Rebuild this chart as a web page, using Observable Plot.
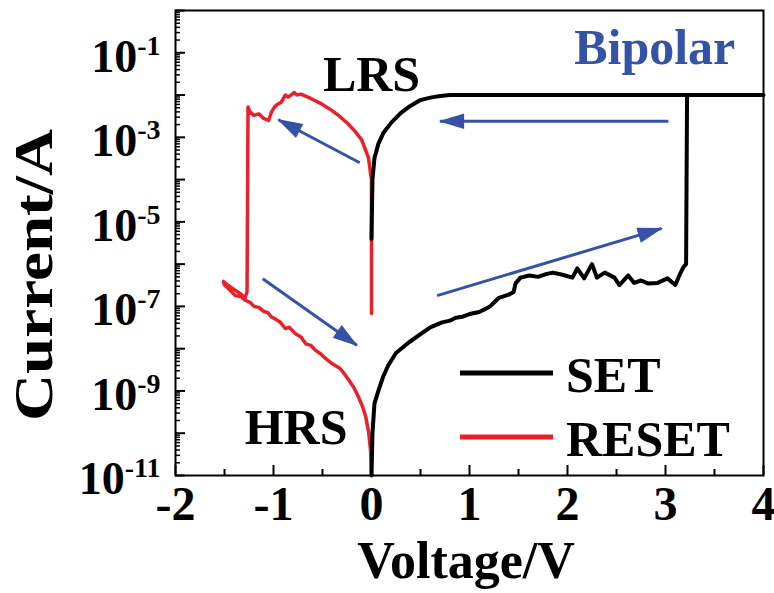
<!DOCTYPE html>
<html>
<head>
<meta charset="utf-8">
<script src="https://cdn.jsdelivr.net/npm/d3@7"></script>
<script src="https://cdn.jsdelivr.net/npm/@observablehq/plot@0.6"></script>
<style>
  body { margin: 0; background: #fff; }
  #chart { position: relative; width: 774px; height: 593px; }
  #chart svg, #chart svg text { font-family: "Liberation Serif", "Times New Roman", Times, "DejaVu Serif", serif !important; font-weight: bold; }
</style>
</head>
<body>
<div id="chart"></div>
<script>
// ---- Data ----
const setVoltage = [0, 0.01, 0.03, 0.07, 0.12, 0.17, 0.25, 0.38, 0.5, 0.6, 0.72, 0.8, 0.86, 0.93, 1.0, 1.1, 1.21, 1.3, 1.4, 1.45, 1.47, 1.52, 1.61, 1.7, 1.78, 1.85, 1.95, 2.05, 2.1, 2.17, 2.25, 2.3, 2.38, 2.48, 2.53, 2.62, 2.68, 2.75, 2.82, 2.92, 3.02, 3.1, 3.15, 3.18, 3.21, 3.22, 4.0, 0.8, 0.7, 0.6, 0.5, 0.4, 0.3, 0.2, 0.12, 0.07, 0.03, 0.01, 0];
const setCurrent = [1e-11, 1e-10, 5e-10, 1e-9, 2.2e-9, 4e-9, 7.9e-9, 1.4e-8, 2.2e-8, 3.2e-8, 4.2e-8, 4.6e-8, 5.4e-8, 5.7e-8, 6.6e-8, 7.4e-8, 1.0e-7, 1.6e-7, 1.9e-7, 2.2e-7, 3.5e-7, 4.8e-7, 5.4e-7, 5.0e-7, 5.8e-7, 6.3e-7, 5.6e-7, 4.8e-7, 7.9e-7, 4.6e-7, 1.0e-6, 4.8e-7, 6.3e-7, 4.8e-7, 3.2e-7, 5.4e-7, 3.6e-7, 4.1e-7, 3.5e-7, 3.6e-7, 4.6e-7, 3.2e-7, 6.0e-7, 8.3e-7, 1.0e-6, 1e-2, 1e-2, 1e-2, 9.5e-3, 8.7e-3, 7.6e-3, 5.6e-3, 3.8e-3, 2.2e-3, 1.26e-3, 7e-4, 3.2e-4, 1e-4, 4e-6];

const resetVoltage = [0, 0, -0.01, -0.03, -0.1, -0.17, -0.24, -0.33, -0.41, -0.5, -0.62, -0.72, -0.76, -0.79, -0.82, -0.85, -0.88, -0.92, -0.96, -0.99, -1.02, -1.05, -1.1, -1.15, -1.2, -1.24, -1.26, -1.27, -1.29, -1.34, -1.41, -1.47, -1.51, -1.5, -1.45, -1.39, -1.33, -1.29, -1.24, -1.2, -1.15, -1.1, -1.06, -1.02, -0.98, -0.93, -0.88, -0.84, -0.78, -0.72, -0.67, -0.62, -0.57, -0.52, -0.47, -0.4, -0.32, -0.28, -0.23, -0.18, -0.13, -0.09, -0.06, -0.03, -0.01, 0];
const resetCurrent = [6.8e-8, 1e-4, 1.4e-4, 3.2e-4, 8.7e-4, 1.4e-3, 2.1e-3, 3.2e-3, 4.4e-3, 6.0e-3, 8.3e-3, 1.05e-2, 1.0e-2, 1.15e-2, 1.0e-2, 9e-3, 1.0e-2, 6.8e-3, 6.0e-3, 5.2e-3, 4.0e-3, 2.5e-3, 2.8e-3, 3.6e-3, 3.3e-3, 4.0e-3, 5.2e-3, 2.2e-7, 1.6e-7, 2.0e-7, 2.6e-7, 3.2e-7, 3.9e-7, 3.2e-7, 2.5e-7, 1.8e-7, 1.7e-7, 1.4e-7, 1.25e-7, 1.0e-7, 9.5e-8, 7.6e-8, 7.2e-8, 5.6e-8, 5.0e-8, 4.2e-8, 3.0e-8, 3.2e-8, 2.3e-8, 1.9e-8, 1.3e-8, 1.2e-8, 9.1e-9, 7.6e-9, 5.9e-9, 4.4e-9, 3.4e-9, 2.6e-9, 1.8e-9, 1.2e-9, 7e-10, 4.2e-10, 2.5e-10, 1.1e-10, 4e-11, 1e-11];

// direction arrows (annotation)
const arrowV1 = [-0.12, 3.03, -1.11, 0.67];
const arrowI1 = [2.5e-4, 2.4e-3, 4.5e-7, 1.8e-7];
const arrowV2 = [-0.95, 0.70, -0.15, 2.96];
const arrowI2 = [2.6e-3, 2.4e-3, 1.2e-8, 7e-6];

// text annotations
const noteText = ["LRS", "HRS"];
const noteV = [0, -0.77];
const noteI = [2.9e-2, 1.35e-10];
const modeText = ["Bipolar"];
const modeV = [2.89];
const modeI = [0.13];

// axes
const xTicks = [-2, -1, 0, 1, 2, 3, 4];
const xMinorTicks = [-1.5, -0.5, 0.5, 1.5, 2.5, 3.5];
const yLabelTicks = [1e-1, 1e-3, 1e-5, 1e-7, 1e-9, 1e-11];
const yDecadeTicks = [1e-11, 1e-10, 1e-9, 1e-8, 1e-7, 1e-6, 1e-5, 1e-4, 1e-3, 1e-2, 1e-1, 1];
const yMinorTicks = [];
for (const d of yDecadeTicks.slice(0, -1)) for (let m = 2; m <= 9; m++) yMinorTicks.push(m * d);

const xTitle = "Voltage/V";
const yTitle = "Current/A";
const legendLabels = ["SET", "RESET"];
const legendColors = ["#000000", "#e8212b"];

// ---- Build ----
const font = '"Liberation Serif", "Times New Roman", Times, serif';
const blue = "#3452a6";
const setData = setVoltage.map((v, k) => ({v, i: setCurrent[k]}));
const resetData = resetVoltage.map((v, k) => ({v, i: resetCurrent[k]}));
const arrowData = arrowV1.map((v, k) => ({x1: v, y1: arrowI1[k], x2: arrowV2[k], y2: arrowI2[k]}));
const notes = noteText.map((t, k) => ({t, v: noteV[k], i: noteI[k]}));
const modes = modeText.map((t, k) => ({t, v: modeV[k], i: modeI[k]}));

const plot = Plot.plot({
  width: 774,
  height: 593,
  marginLeft: 175,
  marginRight: 11,
  marginTop: 10,
  marginBottom: 118,
  style: {fontFamily: font, fontWeight: "bold", color: "#000", background: "#fff", overflow: "visible"},
  x: {domain: [-2, 4]},
  y: {type: "log", domain: [1e-11, 1]},
  marks: [
    Plot.axisX({ticks: xTicks, tickSize: -10, tickPadding: 20, fontSize: 48, strokeWidth: 2, tickFormat: d => String(d)}),
    Plot.axisX({ticks: xMinorTicks, tickSize: -6, strokeWidth: 2, tickFormat: () => ""}),
    Plot.axisY({ticks: yDecadeTicks, tickSize: -10, strokeWidth: 2, tickFormat: () => ""}),
    Plot.axisY({ticks: yMinorTicks, tickSize: -5, strokeWidth: 1.5, tickFormat: () => ""}),
    Plot.axisY({ticks: yLabelTicks, tickSize: 0, tickPadding: 15, fontSize: 46, dy: 4, tickFormat: d => "10|" + Math.round(Math.log10(d))}),
    Plot.frame({stroke: "#000", strokeWidth: 2}),
    Plot.line(resetData, {x: "v", y: "i", stroke: "#e8212b", strokeWidth: 3.5, strokeLinejoin: "round"}),
    Plot.line(setData, {x: "v", y: "i", stroke: "#000", strokeWidth: 4, strokeLinejoin: "round"}),
    Plot.link(arrowData, {x1: "x1", y1: "y1", x2: "x2", y2: "y2", stroke: blue, strokeWidth: 3, markerEnd: "arrow"}),
    Plot.text(notes, {x: "v", y: "i", text: "t", fill: "#000", fontSize: 50, fontWeight: "bold"}),
    Plot.text(modes, {x: "v", y: "i", text: "t", fill: blue, fontSize: 50, fontWeight: "bold"})
  ]
});

const svg = plot.tagName.toLowerCase() === "svg" ? plot : plot.querySelector("svg");
const NS = "http://www.w3.org/2000/svg";

// superscript tick labels
svg.querySelectorAll("text").forEach(t => {
  const s = t.textContent;
  if (s.includes("|")) {
    const [b, e] = s.split("|");
    const target = t.querySelector("tspan") || t;
    target.textContent = "";
    const a = document.createElementNS(NS, "tspan");
    a.textContent = b;
    const c = document.createElementNS(NS, "tspan");
    c.textContent = e;
    c.setAttribute("dy", "-0.6em");
    c.setAttribute("font-size", "28");
    target.append(a, c);
  }
});

// filled arrowheads
svg.querySelectorAll("marker").forEach(m => {
  m.setAttribute("viewBox", "-8 -3.2 8.6 6.4");
  m.setAttribute("markerWidth", "8.6");
  m.setAttribute("markerHeight", "6.4");
  m.setAttribute("refX", "0");
  m.setAttribute("refY", "0");
  m.setAttribute("overflow", "visible");
  m.innerHTML = "";
  const p = document.createElementNS(NS, "path");
  p.setAttribute("d", "M-8,-2.6L0.5,0L-8,2.6Z");
  p.setAttribute("fill", blue);
  p.setAttribute("stroke", "none");
  m.append(p);
});

function addText(str, attrs) {
  const t = document.createElementNS(NS, "text");
  for (const k in attrs) t.setAttribute(k, attrs[k]);
  t.textContent = str;
  svg.append(t);
  return t;
}
function addLine(attrs) {
  const l = document.createElementNS(NS, "line");
  for (const k in attrs) l.setAttribute(k, attrs[k]);
  svg.append(l);
}

// axis titles
addText(xTitle, {x: 466, y: 578, "text-anchor": "middle", "font-size": 52, "font-weight": "bold", fill: "#000"});
addText(yTitle, {transform: "translate(52,275) rotate(-90)", "text-anchor": "middle", "font-size": 54, "font-weight": "bold", fill: "#000", textLength: 292, lengthAdjust: "spacingAndGlyphs"});

// legend
const legY = [373, 437];
legendLabels.forEach((lab, k) => {
  addLine({x1: 460, x2: 553, y1: legY[k], y2: legY[k], stroke: legendColors[k], "stroke-width": 5});
  addText(lab, {x: 566, y: legY[k] + 19, "text-anchor": "start", "font-size": 50, "font-weight": "bold", fill: "#000"});
});

document.getElementById("chart").append(plot);
</script>
</body>
</html>
